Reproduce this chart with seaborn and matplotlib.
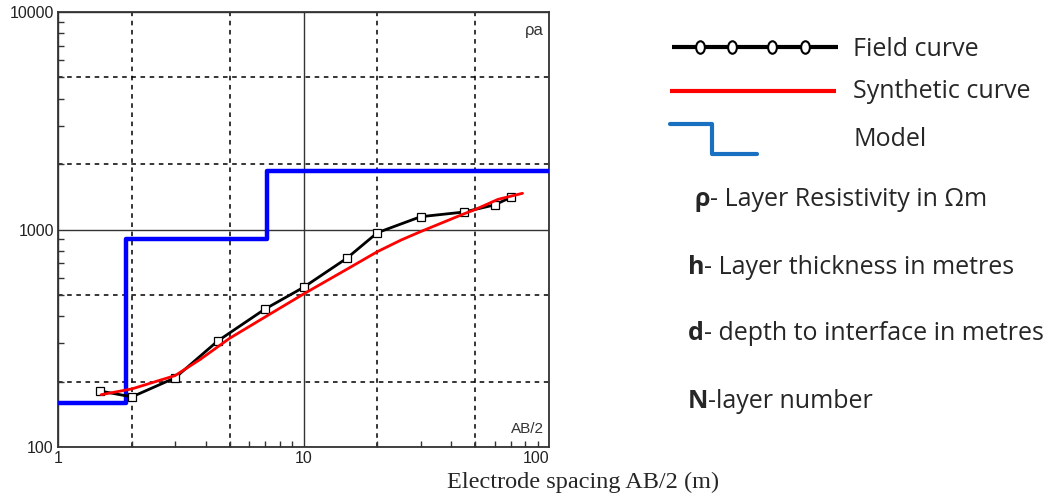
#####----- Resistivity sounding curve: field data, synthetic fit and layered model

#####----- IMPORTS
import numpy as np
import pandas as pd
import matplotlib
matplotlib.use("Agg")
import matplotlib.pyplot as plt
from matplotlib.markers import MarkerStyle
from matplotlib.transforms import Affine2D
import seaborn as sns

#####----- DATA
field_ab2 = [1.48, 2.0, 3.0, 4.47, 6.95, 10.0, 15.0, 20.0, 30.0, 45.0, 60.0, 70.0]
field_rho = [181, 170, 208, 307, 430, 542, 737, 967, 1145, 1203, 1297, 1406]

synth_ab2 = [1.5, 2.0, 3.0, 3.8, 5.0, 7.0, 10.0, 15.0, 20.0, 25.0, 30.0, 45.0, 50.0, 62.0, 78.0]
synth_rho = [174, 185, 213, 253, 316, 397, 505, 656, 791, 895, 978, 1180, 1235, 1376, 1467]

model_depth = [1.0, 1.9, 7.1, 100.0]
model_rho = [160, 900, 1850, 1850]

grid_x_dashed = [2, 5, 20, 50]
grid_y_dashed = [200, 500, 2000, 5000]

legend_items = ["Field curve", "Synthetic curve", "Model"]
notes_bold = ["ρ", "h", "d", "N"]
notes_text = ["- Layer Resistivity in Ωm", "- Layer thickness in metres",
              "- depth to interface in metres", "-layer number"]

#####----- PLOT
W, H = 1057, 495
sns.set_style("ticks")
plt.rcParams['font.family'] = ['Liberation Sans', 'DejaVu Sans']

fig = plt.figure(figsize=(W / 100, H / 100), dpi=100)
ax = fig.add_axes([58 / W, (H - 447) / H, 491 / W, 435 / H])

field_df = pd.DataFrame({'ab2': field_ab2, 'rho': field_rho})
synth_df = pd.DataFrame({'ab2': synth_ab2, 'rho': synth_rho})
model_df = pd.DataFrame({'ab2': model_depth, 'rho': model_rho})

# reference grid
for gx in grid_x_dashed:
    ax.axvline(gx, color='black', lw=1.1, ls=(0, (3, 3)), zorder=0)
for gy in grid_y_dashed:
    ax.axhline(gy, color='black', lw=1.1, ls=(0, (3, 3)), zorder=0)

sns.lineplot(data=model_df, x='ab2', y='rho', color='#0000ff', lw=3.2,
             drawstyle='steps-post', estimator=None, sort=False, ax=ax, zorder=3)
sns.lineplot(data=field_df, x='ab2', y='rho', color='black', lw=2.0,
             marker='s', markersize=6, markerfacecolor='white', markeredgecolor='black',
             markeredgewidth=0.9, estimator=None, sort=False, ax=ax, zorder=4)
sns.lineplot(data=synth_df, x='ab2', y='rho', color='#ff0000', lw=2.0,
             estimator=None, sort=False, ax=ax, zorder=5)

ax.set_xscale('log')
ax.set_yscale('log')
ax.set_xlim(1, 100)
ax.set_ylim(100, 10000)
ax.set_xticks([1, 10, 100])
ax.set_xticklabels(['1', '10', '100'])
ax.set_yticks([100, 1000, 10000])
ax.set_yticklabels(['100', '1000', '10000'])
ax.set_xticks([2, 3, 4, 5, 6, 7, 8, 9, 20, 30, 40, 50, 60, 70, 80, 90], minor=True)
ax.set_yticks([200, 300, 400, 500, 600, 700, 800, 900,
               2000, 3000, 4000, 5000, 6000, 7000, 8000, 9000], minor=True)
ax.set_xticklabels([], minor=True)
ax.set_yticklabels([], minor=True)
ax.tick_params(which='major', length=0, labelsize=11.5, colors='#222222', pad=3)
ax.tick_params(which='minor', direction='in', length=4, width=1, color='#333333')
ax.get_xticklabels()[-1].set_horizontalalignment('right')
ax.grid(which='major', color='#333333', lw=1.0, ls='-')
ax.grid(which='minor', visible=False)
ax.set_xlabel('')
ax.set_ylabel('')
for sp in ax.spines.values():
    sp.set_color('#333333')
    sp.set_linewidth(1.3)

ax.text(0.99, 0.975, 'ρa', transform=ax.transAxes, ha='right', va='top',
        fontsize=12, color='#333333')
ax.text(0.99, 0.025, 'AB/2', transform=ax.transAxes, ha='right', va='bottom',
        fontsize=11, color='#333333')

fig.text(583 / W, 1 - 482 / H, 'Electrode spacing AB/2 (m)', ha='center', va='center',
         fontsize=17.5, family=['Liberation Serif', 'DejaVu Serif'])

# legend panel drawn in pixel coordinates
lg = fig.add_axes([0, 0, 1, 1])
lg.set_xlim(0, W)
lg.set_ylim(H, 0)
lg.axis('off')
lg.patch.set_alpha(0)

legend_font = ['Open Sans', 'DejaVu Sans']
lg.plot([672, 838], [47, 47], color='black', lw=3, solid_capstyle='butt')
oval = MarkerStyle('o', transform=Affine2D().scale(0.7, 1.0))
lg.plot([700, 732, 772, 805], [47, 47, 47, 47], ls='none', marker=oval, markersize=9,
        markerfacecolor='white', markeredgecolor='black', markeredgewidth=1.5)
lg.plot([670, 836], [91, 91], color='#ff0000', lw=3, solid_capstyle='butt')
lg.plot([670, 712, 712, 757], [124, 124, 154, 154], color='#1a70c0', lw=3)

legend_y = [49, 92, 139]
for label, y in zip(legend_items, legend_y):
    lg.text(853, y, label, ha='left', va='center', fontsize=18, family=legend_font)

notes_x = [695, 688, 688, 688]
notes_y = [199, 267, 334, 402]
for b, t, x, y in zip(notes_bold, notes_text, notes_x, notes_y):
    bt = lg.text(x, y, b, ha='left', va='center', fontsize=18, fontweight='bold',
                 family=legend_font)
    lg.annotate(t, xy=(1, 0), xycoords=bt, ha='left', va='bottom', fontsize=18,
                family=legend_font)

fig.savefig('out.png', dpi=100)
